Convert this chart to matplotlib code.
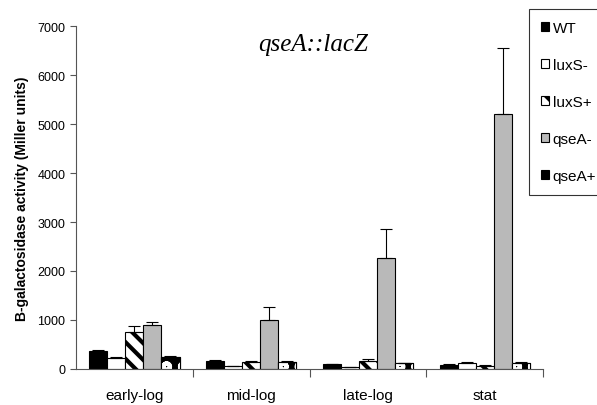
import matplotlib
matplotlib.use("Agg")
import matplotlib.pyplot as plt
import numpy as np

plt.rcParams['font.family'] = ['Liberation Sans', 'DejaVu Sans']
plt.rcParams['hatch.linewidth'] = 3.0

phases = ["early-log", "mid-log", "late-log", "stat"]
strains = ["WT", "luxS-", "luxS+", "qseA-", "qseA+"]

wt = [370, 165, 100, 80]
luxs_minus = [225, 55, 40, 115]
luxs_plus = [750, 150, 170, 65]
qsea_minus = [900, 990, 2270, 5200]
qsea_plus = [240, 140, 110, 125]

wt_err = [20, 10, 5, 10]
luxs_minus_err = [15, 5, 5, 20]
luxs_plus_err = [120, 20, 30, 10]
qsea_minus_err = [65, 280, 590, 1350]
qsea_plus_err = [15, 20, 15, 20]

values = [wt, luxs_minus, luxs_plus, qsea_minus, qsea_plus]
errors = [wt_err, luxs_minus_err, luxs_plus_err, qsea_minus_err, qsea_plus_err]

fig = plt.figure(figsize=(5.97, 4.06), dpi=100)
ax = fig.add_axes([0.127, 0.089, 0.783, 0.844])

x = np.arange(len(phases))
w = 0.155
offsets = (np.arange(5) - 2) * w
styles = [
    dict(color="black", edgecolor="black"),
    dict(color="white", edgecolor="black"),
    dict(color="white", edgecolor="black", hatch="\\\\"),
    dict(color="#b9b9b9", edgecolor="black"),
    dict(color="black", edgecolor="black"),
]

handles = []
for i in range(5):
    pos = x + offsets[i]
    err = np.array(errors[i])
    b = ax.bar(pos, values[i], w, linewidth=0.8, label=strains[i], zorder=2, **styles[i])
    if i == 4:
        # white spotted pattern on black
        ax.bar(pos, values[i], w, facecolor="none", edgecolor="white", hatch="o", linewidth=0, zorder=3)
        ax.bar(pos, values[i], w, facecolor="none", edgecolor="black", linewidth=0.8, zorder=4)
    ax.errorbar(pos, values[i], yerr=[np.zeros(4), err], fmt="none", ecolor="black",
                elinewidth=0.8, capsize=4, capthick=0.8, zorder=5)
    handles.append(b)

ax.set_xlim(-0.5, 3.5)
ax.set_ylim(0, 7000)
ax.set_yticks(range(0, 7001, 1000))
ax.set_xticks(x)
ax.set_xticklabels(phases, fontsize=11)
ax.set_xticks(np.arange(0.5, 3.6, 1), minor=True)
ax.tick_params(axis="x", which="major", length=0, pad=14)
ax.tick_params(axis="x", which="minor", length=6, direction="out", width=0.8, color="#555555")
ax.tick_params(axis="y", length=4, direction="out", width=0.8, labelsize=9, color="#555555")
for s in ["top", "right"]:
    ax.spines[s].set_visible(False)
for s in ["left", "bottom"]:
    ax.spines[s].set_color("#555555")
    ax.spines[s].set_linewidth(0.8)

ax.set_ylabel("B-galactosidase activity (Miller units)", fontsize=10, fontweight="bold", labelpad=6)
ax.text(313 / 597, 1 - 45 / 406, "qseA::lacZ", transform=fig.transFigure, ha="center", va="center",
        fontsize=18, fontstyle="italic", family="Liberation Serif")

leg = fig.legend(handles=handles, labels=strains, loc="upper left",
                 bbox_to_anchor=(529 / 597, 1 - 10 / 406), fontsize=11,
                 frameon=True, fancybox=False, edgecolor="black", labelspacing=1.5,
                 handlelength=0.5, handleheight=0.5, handletextpad=0.25, borderpad=0.8,
                 borderaxespad=0)
leg.get_frame().set_linewidth(0.8)

fig.savefig("out.png", dpi=100)
